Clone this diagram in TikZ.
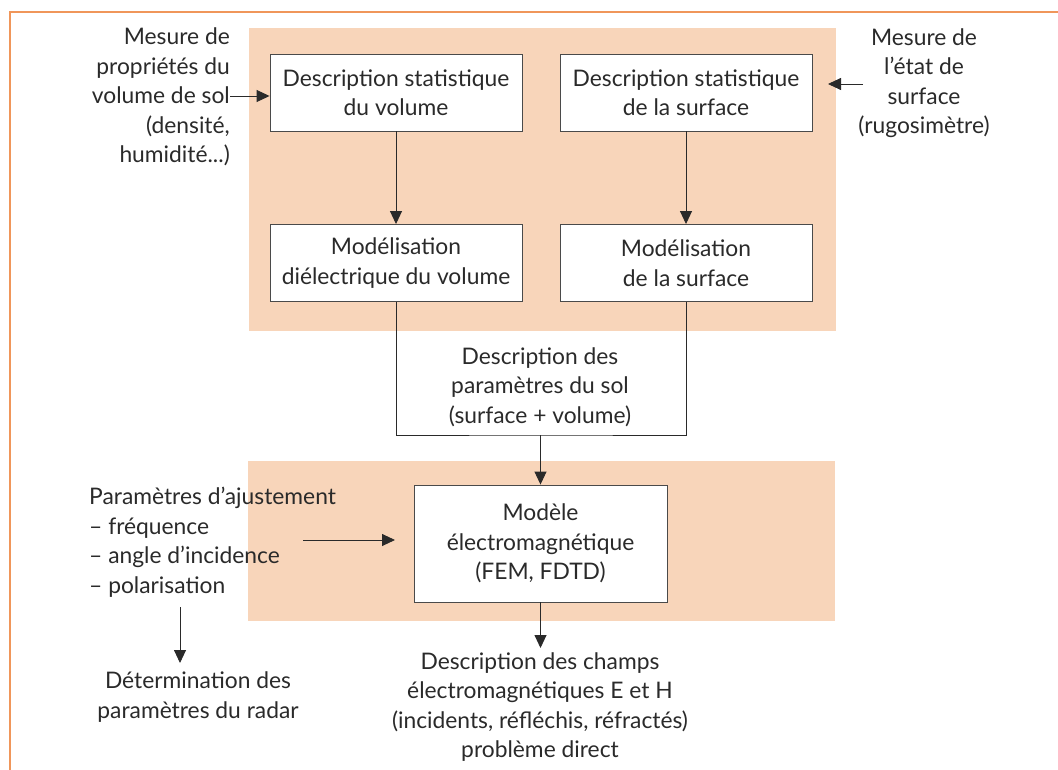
\documentclass[tikz,border=0pt]{standalone}
\usepackage{fontspec}
\setmainfont{Lato}
\usetikzlibrary{arrows.meta}
\definecolor{peach}{HTML}{F8D5BA}
\definecolor{frameor}{HTML}{F0965A}
\definecolor{ink}{HTML}{2A2A2A}
\begin{document}
\begin{tikzpicture}[x=1pt,y=-1pt,
  font=\fontsize{22.8}{29.5}\selectfont,
  every node/.style={text=ink, inner sep=0pt},
  box/.style={draw=ink!85, fill=white, line width=0.9pt, minimum width=252pt, minimum height=77pt, align=center},
  lbl/.style={align=center},
  arr/.style={-{Triangle[length=13pt,width=12pt]}, line width=0.9pt, draw=ink},
  ln/.style={line width=0.9pt, draw=ink}]
\useasboundingbox (0,0) rectangle (1058,770);
% panels and frame
\fill[peach] (249,28) rectangle (836,331);
\fill[peach] (248,461) rectangle (835,621);
\draw[frameor, line width=1.6pt] (10,770) -- (10,12) -- (1058,12);
% boxes
\node[box] (b1) at (396,92.5) {Description statistique\\du volume};
\node[box] (b2) at (686,92.5) {Description statistique\\de la surface};
\node[box] (b3) at (396,263) {Modélisation\\diélectrique du volume};
\node[box] (b4) at (686,263) {Modélisation\\de la surface};
\node[box, minimum width=253pt, minimum height=117pt] (b6) at (540.5,543.5) {Modèle\\électromagnétique\\(FEM, FDTD)};
% texts
\node[align=right, anchor=east] (mv) at (230,97) {Mesure de\\propriétés du\\volume de sol\\(densité,\\humidité...)};
\node[lbl] (ms) at (924,83) {Mesure de\\l’état de\\surface\\(rugosimètre)};
\node[lbl] (sol) at (540,387) {Description des\\paramètres du sol\\(surface + volume)};
\node[align=left, anchor=west] (pa) at (89,542) {Paramètres d’ajustement\\– fréquence\\– angle d’incidence\\– polarisation};
\node[lbl] (dr) at (198,697) {Détermination des\\paramètres du radar};
\node[lbl] (ch) at (540,707) {Description des champs\\électromagnétiques E et H\\(incidents, réfléchis, réfractés)\\problème direct};
% coordinates
\coordinate (solb) at (540.5,435);
\coordinate (ra) at (863,84);
\coordinate (rb) at (828,84);
\coordinate (pa1) at (303,540);
\coordinate (pa2) at (395,540);
\coordinate (pd1) at (180,607);
\coordinate (pd2) at (180,663);
\coordinate (chn) at (540.5,648);
% connectors
\draw[arr] (mv.east |- 0,96) -- (b1.west |- 0,96);
\draw[arr] (ra) -- (rb);
\draw[arr] (b1.south) -- (b3.north);
\draw[arr] (b2.south) -- (b4.north);
\draw[ln] (b3.south) |- (solb) -| (b4.south);
\draw[arr] (solb) -- (b6.north);
\draw[arr] (pa1) -- (pa2);
\draw[arr] (pd1) -- (pd2);
\draw[arr] (b6.south) -- (chn);
\end{tikzpicture}
\end{document}
